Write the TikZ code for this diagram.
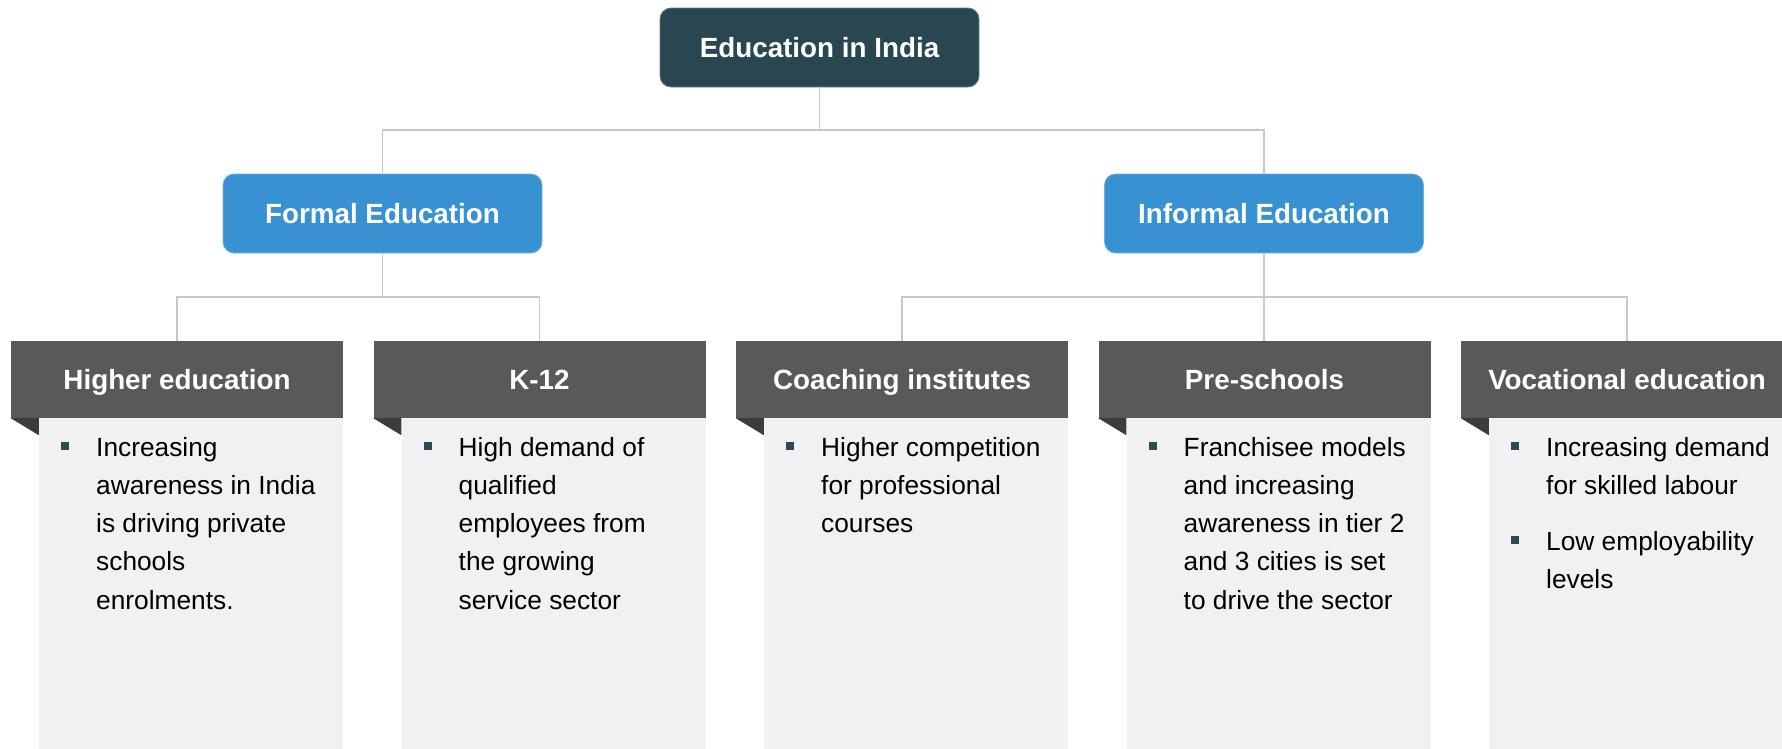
\documentclass[tikz,border=0pt]{standalone}
\usepackage{fontspec}
\setmainfont{Liberation Sans}
\definecolor{rootcol}{HTML}{284750}
\definecolor{bluecol}{HTML}{3891D0}
\definecolor{hdrcol}{HTML}{595959}
\definecolor{bodycol}{HTML}{F1F1F1}
\definecolor{foldcol}{HTML}{3C3C3C}
\definecolor{bulcol}{HTML}{2B4A52}
\definecolor{linecol}{HTML}{C8C8C8}
\begin{document}
\begin{tikzpicture}[x=1pt,y=-1pt,
  boldtxt/.style={font=\fontsize{27.8}{33}\selectfont\bfseries, text=white, text height=20pt, text depth=0pt},
  topbox/.style={boldtxt, rounded corners=11pt, minimum width=319pt, minimum height=79pt, inner sep=0pt},
  rootbox/.style={topbox, fill=rootcol, draw=rootcol!70!white, line width=0.8pt},
  midbox/.style={topbox, fill=bluecol, draw=bluecol!70!white, line width=0.8pt},
  hdr/.style={boldtxt, fill=hdrcol, minimum width=332pt, minimum height=77pt, inner sep=0pt},
  bodybox/.style={fill=bodycol, anchor=north west, minimum width=304pt, minimum height=340pt, inner sep=0pt},
  bul/.style={fill=bulcol, minimum size=8pt, inner sep=0pt},
  btext/.style={anchor=north west, align=left, inner sep=0pt, font=\fontsize{26.3}{38.2}\selectfont, text=black},
  conn/.style={draw=linecol, line width=1.1pt},
  fold/.style={fill=foldcol}
]
\clip (0,0) rectangle (1782,748);
\fill[white] (0,0) rectangle (1782,748);

% top levels
\node[rootbox] (root) at (819.5,47.5) {Education in India};
\node[midbox] (formal) at (382.5,213.5) {Formal Education};
\node[midbox] (informal) at (1264,213.5) {Informal Education};

% bodies
\node[bodybox] (b1) at (39,418) {};
\node[bodybox] (b2) at (401.5,418) {};
\node[bodybox] (b3) at (764,418) {};
\node[bodybox] (b4) at (1126.5,418) {};
\node[bodybox] (b5) at (1489,418) {};

% headers
\node[hdr] (h1) at (177,379.5) {Higher education};
\node[hdr] (h2) at (539.5,379.5) {K-12};
\node[hdr] (h3) at (902,379.5) {Coaching institutes};
\node[hdr] (h4) at (1264.5,379.5) {Pre-schools};
\node[hdr] (h5) at (1627,379.5) {Vocational education};

% folds
\foreach \h in {h1,h2,h3,h4,h5}{
  \fill[fold] (\h.south west) -- ++(28,0) -- ++(0,17) -- cycle;
}

% connectors
\coordinate (j0) at (0,130);
\coordinate (j1) at (0,297);
\draw[conn] (root.south) -- (root.south |- j0) -| (formal.north);
\draw[conn] (root.south |- j0) -| (informal.north);
\draw[conn] (formal.south) -- (formal.south |- j1) -| (h1.north);
\draw[conn] (formal.south |- j1) -| (h2.north);
\draw[conn] (informal.south) -- (informal.south |- h4.north);
\draw[conn] (informal.south |- j1) -| (h3.north);
\draw[conn] (informal.south |- j1) -| (h5.north);

% bullets and texts
\node[bul] (u1) at (65,446) {};
\node[btext] (t1) at (96,429.3) {\strut Increasing\\awareness in India\\is driving private\\schools\\enrolments.};
\node[bul] (u2) at (427.5,446) {};
\node[btext] (t2) at (458.5,429.3) {\strut High demand of\\qualified\\employees from\\the growing\\service sector};
\node[bul] (u3) at (790,446) {};
\node[btext] (t3) at (821,429.3) {\strut Higher competition\\for professional\\courses};
\node[bul] (u4) at (1152.5,446) {};
\node[btext] (t4) at (1183.5,429.3) {\strut Franchisee models\\and increasing\\awareness in tier 2\\and 3 cities is set\\to drive the sector};
\node[bul] (u5) at (1515,446) {};
\node[btext] (t5) at (1546,429.3) {\strut Increasing demand\\for skilled labour};
\node[bul] (u6) at (1515,539.5) {};
\node[btext] (t6) at (1546,523.3) {\strut Low employability\\levels};
\end{tikzpicture}
\end{document}
